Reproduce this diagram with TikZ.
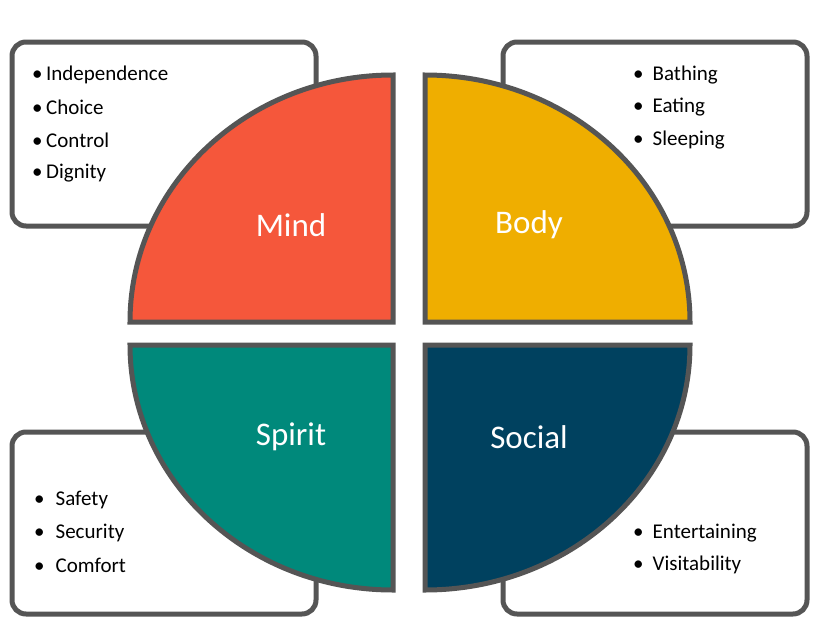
\documentclass[tikz,border=0pt]{standalone}
\usepackage{fontspec}
\setmainfont{Carlito}
\begin{document}
\begin{tikzpicture}[x=1pt,y=-1pt,
 box/.style={draw=bord,line width=5pt,fill=white,rounded corners=14pt},
 quad/.style={draw=bord,line width=5pt},
 item/.style={anchor=west,font=\fontsize{21}{24}\selectfont,text=black,inner sep=0},
 lab/.style={font=\fontsize{33}{36}\selectfont,text=white}]
\definecolor{bord}{HTML}{555555}
\definecolor{mind}{HTML}{F5573B}
\definecolor{body}{HTML}{EFAE00}
\definecolor{spirit}{HTML}{00897B}
\definecolor{social}{HTML}{00415F}
\fill[white] (0,0) rectangle (820,632);
\useasboundingbox (0,0) rectangle (820,632);
\draw[box] (12,42) rectangle (316,226);
\draw[box] (503,42) rectangle (807,226);
\draw[box] (12,432) rectangle (316,614);
\draw[box] (503,432) rectangle (807,614);
\draw[quad,fill=mind] (393,322) -- (130,322) arc[start angle=180,end angle=270,x radius=263,y radius=247] -- cycle;
\draw[quad,fill=body] (425,322) -- (425,75) arc[start angle=270,end angle=360,x radius=265,y radius=247] -- cycle;
\draw[quad,fill=spirit] (393,345) -- (130,345) arc[start angle=180,end angle=90,x radius=263,y radius=245] -- cycle;
\draw[quad,fill=social] (425,345) -- (690,345) arc[start angle=0,end angle=90,x radius=265,y radius=245] -- cycle;
\node[lab] (lm) at (291,225) {Mind};
\node[lab] (lb) at (529,225) {Body};
\node[lab] (ls) at (291,437) {Spirit};
\node[lab] (lc) at (529,437) {Social};
\node[item] (a1) at (32,75) {•\,Independence};
\node[item] (a2) at (32,107) {•\,Choice};
\node[item] (a3) at (32,140) {•\,Control};
\node[item] (a4) at (32,173) {•\,Dignity};
\node[item] (b1) at (633,75) {•\hspace{9pt}Bathing};
\node[item] (b2) at (633,107) {•\hspace{9pt}Eating};
\node[item] (b3) at (633,140) {•\hspace{9pt}Sleeping};
\node[item] (c1) at (34,500) {•\hspace{11pt}Safety};
\node[item] (c2) at (34,533) {•\hspace{11pt}Security};
\node[item] (c3) at (34,565) {•\hspace{11pt}Comfort};
\node[item] (d1) at (633,533) {•\hspace{9pt}Entertaining};
\node[item] (d2) at (633,565) {•\hspace{9pt}Visitability};
\end{tikzpicture}
\end{document}
